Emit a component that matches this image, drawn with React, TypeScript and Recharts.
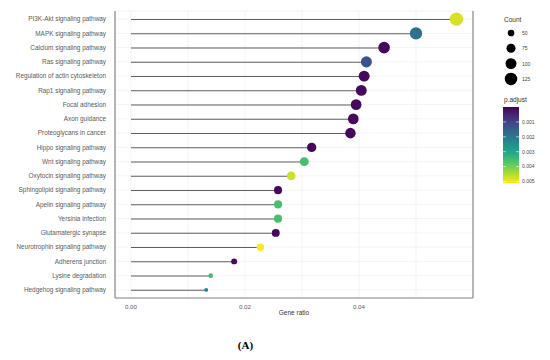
import React from "react";
import {
  ComposedChart,
  Bar,
  Scatter,
  XAxis,
  YAxis,
  ZAxis,
  CartesianGrid,
  Cell,
  ReferenceLine,
} from "recharts";

const categories = [
  "PI3K-Akt signaling pathway",
  "MAPK signaling pathway",
  "Calcium signaling pathway",
  "Ras signaling pathway",
  "Regulation of actin cytoskeleton",
  "Rap1 signaling pathway",
  "Focal adhesion",
  "Axon guidance",
  "Proteoglycans in cancer",
  "Hippo signaling pathway",
  "Wnt signaling pathway",
  "Oxytocin signaling pathway",
  "Sphingolipid signaling pathway",
  "Apelin signaling pathway",
  "Yersinia infection",
  "Glutamatergic synapse",
  "Neurotrophin signaling pathway",
  "Adherens junction",
  "Lysine degradation",
  "Hedgehog signaling pathway",
];

const geneRatio = [
  0.0571, 0.05, 0.0444, 0.0413, 0.0409, 0.0404, 0.0395, 0.039, 0.0385, 0.0317,
  0.0304, 0.0281, 0.0258, 0.0258, 0.0258, 0.0254, 0.0227, 0.0181, 0.014, 0.0132,
];

const counts = [
  140, 122, 109, 101, 100, 99, 97, 96, 94, 78, 74, 69, 63, 63, 63, 62, 56, 44, 34, 30,
];

const pAdjust = [
  0.0048, 0.0019, 0.0001, 0.0013, 0.0001, 0.0001, 0.0001, 0.0001, 0.0001, 0.0001,
  0.0036, 0.0047, 0.0001, 0.0036, 0.0036, 0.0001, 0.0051, 0.0001, 0.0035, 0.0022,
];

const xTicks = [0, 0.01, 0.02, 0.03, 0.04, 0.05];
const xTickLabels = ["0.00", "", "0.02", "", "0.04", ""];
const countLegend = [50, 75, 100, 125];
const pLegend = [0.001, 0.002, 0.003, 0.004, 0.005];

const P_MAX = 0.0051;
const Z_DOMAIN: [number, number] = [20, 140];
const Z_RANGE: [number, number] = [0, 141];

const VIRIDIS = [
  "#440154", "#482475", "#414487", "#355f8d", "#2a788e",
  "#21918c", "#22a884", "#44bf70", "#7ad151", "#bddf26", "#fde725",
];

function hexToRgb(h: string) {
  return [parseInt(h.slice(1, 3), 16), parseInt(h.slice(3, 5), 16), parseInt(h.slice(5, 7), 16)];
}
function viridis(t: number) {
  const c = Math.max(0, Math.min(1, t)) * (VIRIDIS.length - 1);
  const i = Math.min(Math.floor(c), VIRIDIS.length - 2);
  const f = c - i;
  const a = hexToRgb(VIRIDIS[i]);
  const b = hexToRgb(VIRIDIS[i + 1]);
  const m = a.map((v, k) => Math.round(v + (b[k] - v) * f));
  return `rgb(${m[0]},${m[1]},${m[2]})`;
}

const data = categories.map((name, i) => ({
  name,
  ratio: geneRatio[i],
  count: counts[i],
  p: pAdjust[i],
}));

const FONT = "'Liberation Sans', Arial, sans-serif";

function legendRadius(c: number) {
  const area = Z_RANGE[0] + ((c - Z_DOMAIN[0]) / (Z_DOMAIN[1] - Z_DOMAIN[0])) * (Z_RANGE[1] - Z_RANGE[0]);
  return Math.sqrt(area / Math.PI);
}

function YTick(props: any) {
  const { x, y, payload } = props;
  return (
    <text x={x} y={y} dy={2.3} textAnchor="end" fontSize={6.4} fill="#5a5a5a" fontFamily={FONT}>
      {payload.value}
    </text>
  );
}

function XTick(props: any) {
  const { x, y, payload } = props;
  const label = xTickLabels[xTicks.indexOf(payload.value)] ?? "";
  if (!label) return null;
  return (
    <text x={x} y={y} dy={3} textAnchor="middle" fontSize={6.2} fill="#5a5a5a" fontFamily={FONT}>
      {label}
    </text>
  );
}

function Legends() {
  const barTop = 107;
  const barH = 76;
  const gradStops = VIRIDIS.map((c, i) => (
    <stop key={i} offset={`${(i / (VIRIDIS.length - 1)) * 100}%`} stopColor={c} />
  ));
  return (
    <svg
      width={60}
      height={200}
      style={{ position: "absolute", left: 490, top: 0 }}
      fontFamily={FONT}
    >
      <defs>
        <linearGradient id="pgrad" x1="0" y1="0" x2="0" y2="1">
          {gradStops}
        </linearGradient>
      </defs>
      <text x={14} y={22} fontSize={6.5} fill="#333">Count</text>
      {countLegend.map((c, i) => (
        <g key={c}>
          <circle cx={21} cy={33 + i * 15.3} r={legendRadius(c)} fill="#000" />
          <text x={32} y={35 + i * 15.3} fontSize={5} fill="#444">{c}</text>
        </g>
      ))}
      <text x={14} y={102} fontSize={6.5} fill="#333">p.adjust</text>
      <rect x={13} y={barTop} width={16} height={barH} fill="url(#pgrad)" />
      {pLegend.map((p) => {
        const y = barTop + (p / P_MAX) * barH;
        return (
          <g key={p}>
            <line x1={13} x2={16} y1={y} y2={y} stroke="#fff" strokeWidth={0.6} />
            <line x1={26} x2={29} y1={y} y2={y} stroke="#fff" strokeWidth={0.6} />
            <text x={32} y={y + 1.8} fontSize={5} fill="#444">{p.toFixed(3)}</text>
          </g>
        );
      })}
    </svg>
  );
}

export default function App() {
  return (
    <div style={{ position: "absolute", left: 0, top: 0, width: 550, height: 360, background: "#fff" }}>
      <ComposedChart
        width={550}
        height={360}
        data={data}
        layout="vertical"
        margin={{ top: 11, right: 77, bottom: 40, left: 0 }}
      >
        <CartesianGrid stroke="#ececec" strokeWidth={0.6} />
        <XAxis
          type="number"
          domain={[-0.0028, 0.06]}
          ticks={xTicks}
          allowDataOverflow
          tick={<XTick />}
          tickLine={false}
          axisLine={{ stroke: "#888", strokeWidth: 1.2 }}
          tickMargin={2}
          label={{ value: "Gene ratio", position: "insideBottom", offset: 5, fontSize: 6.5, fill: "#333", fontFamily: FONT }}
          height={22}
        />
        <YAxis
          type="category"
          dataKey="name"
          width={115}
          tickLine={false}
          axisLine={{ stroke: "#888", strokeWidth: 1.2 }}
          tick={<YTick />}
          tickMargin={3}
          padding={{ top: 1, bottom: 1 }}
          interval={0}
        />
        <ZAxis type="number" dataKey="count" domain={Z_DOMAIN} range={Z_RANGE} />
        <ReferenceLine x={0.06} stroke="#888" strokeWidth={1.2} />
        <Bar dataKey="ratio" barSize={1} fill="#5f5f5f" isAnimationActive={false} />
        <Scatter dataKey="ratio" isAnimationActive={false}>
          {data.map((d, i) => (
            <Cell key={i} fill={viridis(d.p / P_MAX)} />
          ))}
        </Scatter>
      </ComposedChart>
      <Legends />
      <div
        style={{
          position: "absolute",
          left: 0,
          width: 491,
          top: 339,
          textAlign: "center",
          fontFamily: "'Liberation Serif', 'Times New Roman', serif",
          fontWeight: "bold",
          fontSize: 11,
          color: "#000",
        }}
      >
        (A)
      </div>
    </div>
  );
}
